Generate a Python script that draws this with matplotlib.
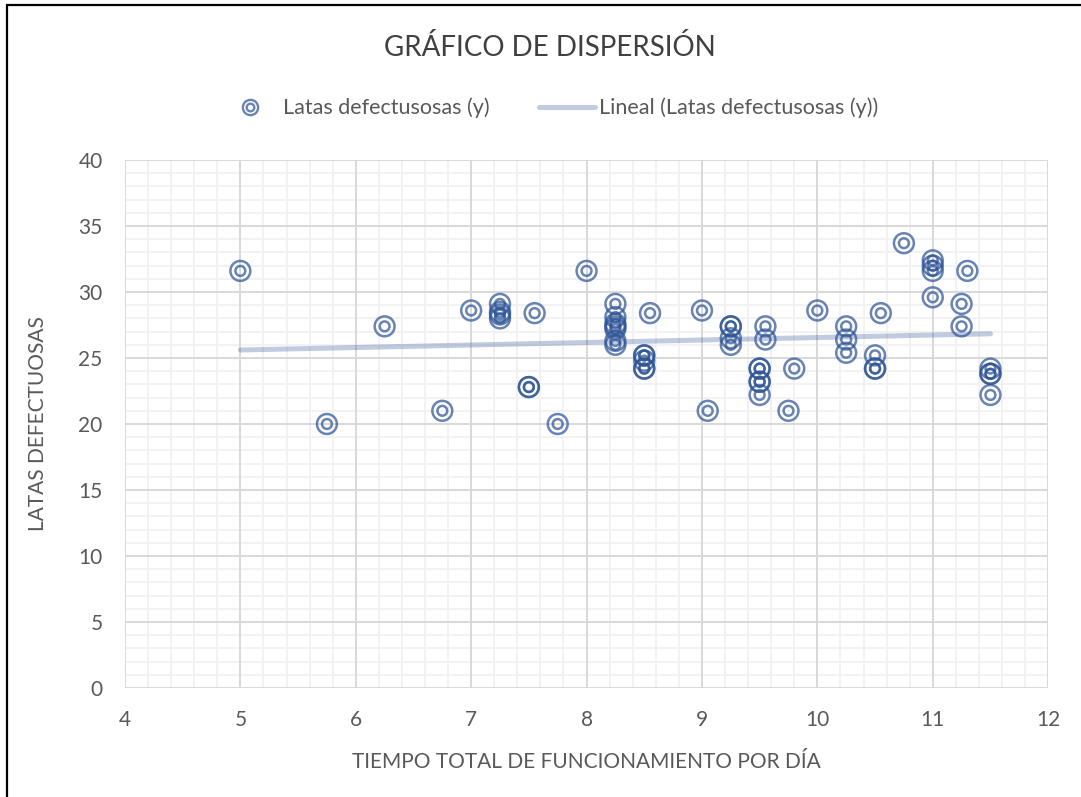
import numpy as np
import matplotlib
matplotlib.use('Agg')
import matplotlib.pyplot as plt
from matplotlib.lines import Line2D
from matplotlib.legend_handler import HandlerTuple
from matplotlib.ticker import MultipleLocator
from matplotlib.patches import Rectangle

plt.rcParams['font.family'] = ['Lato', 'DejaVu Sans']

# data
tiempo = [5, 5.75, 6.25, 6.75, 7,
          7.25, 7.25, 7.25, 7.25, 7.5, 7.5, 7.55, 7.75, 8,
          8.25, 8.25, 8.25, 8.25, 8.25, 8.25, 8.25,
          8.5, 8.5, 8.5, 8.5, 8.5, 8.55,
          9, 9.05, 9.25, 9.25, 9.25, 9.25,
          9.5, 9.5, 9.5, 9.5, 9.5, 9.55, 9.55, 9.75, 9.8, 10,
          10.25, 10.25, 10.25, 10.5, 10.5, 10.5, 10.55, 10.75,
          11, 11, 11, 11, 11.25, 11.25, 11.3,
          11.5, 11.5, 11.5, 11.5]
latas = [31.6, 20, 27.4, 21, 28.6,
         29.1, 28.5, 28.3, 28.0, 22.8, 22.8, 28.4, 20, 31.6,
         29.1, 28.1, 27.6, 27.4, 27.2, 26.3, 26.0,
         25.2, 25.2, 24.8, 24.2, 24.2, 28.4,
         28.6, 21, 27.4, 27.4, 26.5, 26.0,
         24.2, 24.2, 23.2, 23.2, 22.2, 27.4, 26.4, 21, 24.2, 28.6,
         27.4, 26.4, 25.4, 25.2, 24.2, 24.2, 28.4, 33.7,
         32.4, 32.0, 31.6, 29.6, 29.1, 27.4, 31.6,
         24.2, 23.8, 23.8, 22.2]

titulo = 'GRÁFICO DE DISPERSIÓN'
serie = 'Latas defectusosas (y)'
tendencia = 'Lineal (Latas defectusosas (y))'
xlabel = 'TIEMPO TOTAL DE FUNCIONAMIENTO POR DÍA'
ylabel = 'LATAS DEFECTUOSAS'

gray = '#595959'
blue = '#2F5597'

fig = plt.figure(figsize=(10.81, 7.97), dpi=100)
rect = [0.1156, 0.1368, 0.854, 0.6624]

# minor grid lives on its own axes underneath, so major lines stay unbroken
ax_minor = fig.add_axes(rect)
ax = fig.add_axes(rect)
ax.patch.set_alpha(0)

for a in (ax_minor, ax):
    a.set_xlim(4, 12)
    a.set_ylim(0, 40)
    a.xaxis.set_major_locator(MultipleLocator(1))
    a.yaxis.set_major_locator(MultipleLocator(5))
    for s in a.spines.values():
        s.set_visible(False)

ax_minor.xaxis.set_minor_locator(MultipleLocator(0.2))
ax_minor.yaxis.set_minor_locator(MultipleLocator(1))
ax_minor.grid(which='both', color='#F2F2F2', lw=1.4)
ax_minor.tick_params(which='both', length=0, labelbottom=False, labelleft=False)

ax.grid(which='major', color='#D9D9D9', lw=1.4)
ax.set_axisbelow(True)

x = np.array(tiempo)
y = np.array(latas)

# trend line
m, b = np.polyfit(x, y, 1)
xs = np.array([x.min(), x.max()])
ax.plot(xs, m * xs + b, color=blue, alpha=0.3, lw=3.6, solid_capstyle='round', zorder=3)

ax.scatter(x, y, s=205, facecolors='none', edgecolors=blue, alpha=0.72, linewidths=1.8, zorder=4)
ax.scatter(x, y, s=50, facecolors='none', edgecolors=blue, alpha=0.72, linewidths=1.8, zorder=4)

ax.tick_params(which='both', length=0, labelsize=15, labelcolor=gray)
ax.tick_params(axis='x', pad=16)
ax.tick_params(axis='y', pad=16)

ax.set_xlabel(xlabel, fontsize=15, color=gray, labelpad=16)
ax.set_ylabel(ylabel, fontsize=15, color=gray, labelpad=22)

fig.text(0.509, 0.94, titulo, ha='center', va='center', fontsize=20, color='#404040')

h_marker = (Line2D([], [], ls='none', marker='o', ms=11, mfc='none', mec=blue, mew=1.7, alpha=0.72),
            Line2D([], [], ls='none', marker='o', ms=5.5, mfc='none', mec=blue, mew=1.7, alpha=0.72))
h_line = Line2D([], [], color=blue, alpha=0.3, lw=3.6, solid_capstyle='round')
fig.legend([h_marker, h_line], [serie, tendencia], loc='center', bbox_to_anchor=(0.509, 0.8645),
           ncol=2, frameon=False, fontsize=15.5, labelcolor=gray, handlelength=2.6,
           handletextpad=0.2, columnspacing=2.3,
           handler_map={tuple: HandlerTuple(ndivide=1)})

# chart border
fig.add_artist(Rectangle((7 / 1081, -0.1), 1.2, 1 - 5 / 797 + 0.1, transform=fig.transFigure,
                         fill=False, edgecolor='black', lw=1.6))

fig.savefig('out.png', dpi=100)
